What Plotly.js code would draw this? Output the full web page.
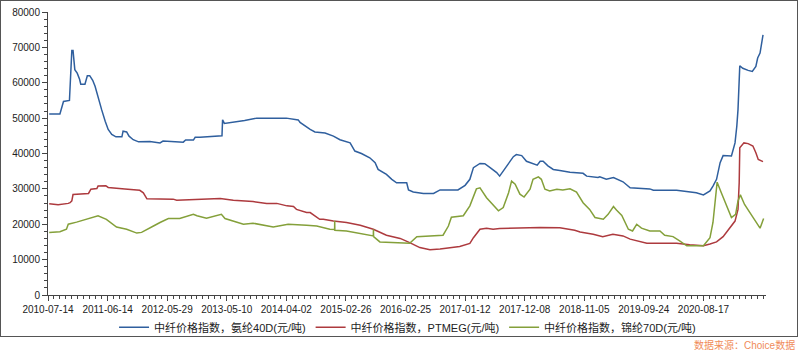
<!DOCTYPE html>
<html>
<head>
<meta charset="utf-8">
<script src="https://cdn.plot.ly/plotly-3.0.1.min.js"></script>
<style>
html,body{margin:0;padding:0;background:#fff;}
#wrap{position:relative;width:800px;height:353px;}
#chart{width:800px;height:353px;}
#frame{position:absolute;left:0;top:0;width:796px;height:335px;border:1px solid #555;pointer-events:none;}
</style>
</head>
<body>
<div id="wrap"><div id="chart"></div><div id="frame"></div></div>
<script>
// x values are sample positions in trading-day units (10 units between labelled ticks)
const tickLabels = ['2010-07-14','2011-06-14','2012-05-29','2013-05-10','2014-04-02','2015-02-26','2016-02-25','2017-01-12','2017-12-08','2018-11-05','2019-09-24','2020-08-17'];
const tickPos = [0,10,20,30,40,50,60,70,80,90,100,110];

const seriesNames = ['中纤价格指数，氨纶40D(元/吨)','中纤价格指数，PTMEG(元/吨)','中纤价格指数，锦纶70D(元/吨)'];

const spandexX = [0.2,2.0,2.6,3.6,4.0,4.2,4.5,4.9,5.3,5.5,6.2,6.6,7.0,7.5,7.9,8.4,9.0,9.6,10.1,10.7,11.4,12.4,12.6,13.2,13.6,14.3,15.2,17.1,18.8,19.3,22.7,23.1,24.4,24.7,25.5,29.2,29.3,29.6,33,35,40,42,42.3,44.0,44.8,46.5,47.9,49.0,50.7,51.5,52.6,54.0,54.9,55.4,56.8,57.7,58.5,60.2,60.5,61.3,63.0,64.7,65.8,68.8,70.0,70.8,71.4,72.5,73.3,74.2,75.3,75.8,76.4,77.2,78.1,78.6,79.5,80.3,81.4,82.1,82.6,83.1,83.9,84.8,85.9,87.6,89.8,90.4,92.3,92.6,93.7,94.9,96.5,97.7,101.0,101.6,105.5,106.6,108.8,110.0,111.1,111.6,112.2,112.8,113.3,114.7,115.3,115.6,115.8,116.1,116.6,117.5,118.2,118.8,119.1,119.5,119.8,120.0];
const spandexVal = [51200,51200,54700,55000,69100,69100,63700,62700,61000,59600,59600,62000,62000,60700,59000,55700,52400,49100,46800,45400,44700,44700,46300,46100,44900,43900,43300,43400,43000,43500,43200,43800,43800,44600,44600,45000,49500,48500,49300,50000,50000,49500,48800,46800,46100,45800,44900,43900,43000,40700,40000,38800,37400,35500,34100,32700,31700,31700,29700,29100,28700,28700,29700,29700,31000,32700,36000,37200,37100,36000,34600,33600,35000,36900,39100,39700,39400,37800,37200,36700,37800,37800,36500,35500,35200,34700,34400,33600,33200,33400,32700,33200,32000,30300,30000,29600,29600,29400,28900,28300,29400,30800,32700,37400,39400,39300,43000,47700,52400,64800,64100,63500,63200,64600,67000,68400,71200,73500];

const ptmegX = [0.2,1.7,3.4,3.7,4.0,4.2,6.8,7.2,8.2,8.4,9.7,10.1,12.9,15.4,16.0,16.6,21.0,21.6,28.9,30.0,31.1,34.4,36.7,38.4,40.1,41.2,41.7,43.4,44.0,45.6,46.2,47.9,50.1,52.4,54.6,56.8,59.1,60.7,62.4,64.1,65.8,69.1,70.8,71.4,72.5,73.6,74.7,75.8,82.6,85.9,88.4,89.3,91.5,93.1,94.8,96.5,97.7,100.5,105.5,107.7,110.0,111.1,112.2,113.3,114.2,115.3,115.8,116.0,116.1,116.8,117.5,118.3,118.8,119.2,120.0];
const ptmegVal = [25800,25500,25900,26100,26600,28400,28700,29900,30100,30800,30900,30400,30000,29600,28900,27200,27100,26800,27300,27000,26800,26400,25900,25900,25200,25000,24200,23300,23300,21400,21400,20900,20500,19700,18600,16900,16000,14800,13400,12800,13000,13700,14600,16200,18600,18900,18600,18800,19100,19000,18300,17800,17200,16500,17200,16700,15800,14600,14600,14200,13900,14400,15000,16500,18600,20900,24200,31700,41600,43000,42800,42100,40200,38300,37700];

const thirdX = [0.2,2.0,3.1,3.4,4.8,6.5,8.4,9.8,11.5,13.2,14.9,15.7,16.6,17.7,18.8,20.2,22.1,24.4,25.0,26.6,29.1,29.7,32.8,34.4,37.8,40.3,43.4,45.1,47.3,48.1,48.12,48.14,50.1,53.5,54.6,54.62,54.64,55.7,60.2,60.7,61.9,66.3,67.2,67.7,69.7,70.8,71.9,72.5,73.6,74.7,75.6,76.4,77.3,77.8,78.4,79.2,79.9,80.9,81.4,82.3,82.8,83.4,84.2,85.4,86.4,87.6,88.7,89.8,90.9,91.8,93.2,94.0,94.9,95.4,96.3,97.4,98.1,98.8,99.6,101.0,102.7,103.5,104.9,106.0,107.2,110.0,111.1,111.6,112.3,113.0,113.9,114.7,115.4,115.8,116.2,116.9,117.8,119.5,120.1];
const thirdVal = [17700,17900,18600,20000,20600,21400,22400,21400,19200,18600,17500,17700,18600,19500,20500,21600,21600,22800,22400,21700,22800,21600,20000,20300,19200,20000,19700,19500,18600,18500,21000,18300,18100,17200,16700,18600,16500,15000,14600,14600,16500,16900,19500,22000,22400,25200,30000,30300,27500,25600,23800,24700,28900,32200,31300,28500,27700,29900,32700,33400,32700,29900,29400,29900,29700,30000,29100,26100,24200,21900,21400,22800,25000,24000,22500,18600,18100,20000,18900,18100,18100,16900,16500,15300,13900,13900,16200,20500,31900,28900,25200,21900,22800,26600,28300,25600,23300,18900,21600];

const colors = ['#2f5f9e','#ad3a3e','#84a03a'];
const xs = [spandexX, ptmegX, thirdX];
const ys = [spandexVal, ptmegVal, thirdVal];

const traces = seriesNames.map((n,i)=>({
  type:'scatter', mode:'lines', name:n, x:xs[i], y:ys[i],
  line:{color:colors[i], width:1.5}
}));

const font = 'Liberation Sans, Arial, Noto Sans CJK SC, sans-serif';
const layout = {
  width:800, height:353,
  margin:{l:48, r:34, t:12, b:57},
  paper_bgcolor:'#fff', plot_bgcolor:'#fff',
  showlegend:true,
  font:{family:font, size:10, color:'#222'},
  xaxis:{
    range:[0,120.5], showgrid:false, zeroline:false,
    showline:true, linecolor:'#444', linewidth:1,
    ticks:'outside', ticklen:5, tickcolor:'#444',
    tickvals:tickPos, ticktext:tickLabels,
    tickfont:{size:10, color:'#222'},
    minor:{dtick:1, ticks:'outside', ticklen:3, tickcolor:'#444', showgrid:false}
  },
  yaxis:{
    range:[0,80000], showgrid:false, zeroline:false,
    showline:true, linecolor:'#444', linewidth:1,
    ticks:'outside', ticklen:5, tickcolor:'#444',
    dtick:10000, tickformat:'d',
    tickfont:{size:10, color:'#222'},
    minor:{dtick:2000, ticks:'outside', ticklen:3, tickcolor:'#444', showgrid:false}
  },
  legend:{
    orientation:'h', x:0.092, xanchor:'left', y:-0.11, yanchor:'middle',
    font:{family:font, size:11, color:'#222'},
    itemwidth:30, tracegroupgap:0
  },
  annotations:[
    {xref:'paper', yref:'paper', x:(797-48)/718, xanchor:'right', y:-(346-296)/284, yanchor:'middle',
     text:'数据来源：Choice数据', showarrow:false, font:{family:font, size:10, color:'#f08c5a'}}
  ]
};
Plotly.newPlot('chart', traces, layout, {staticPlot:true, displayModeBar:false});
</script>
</body>
</html>
